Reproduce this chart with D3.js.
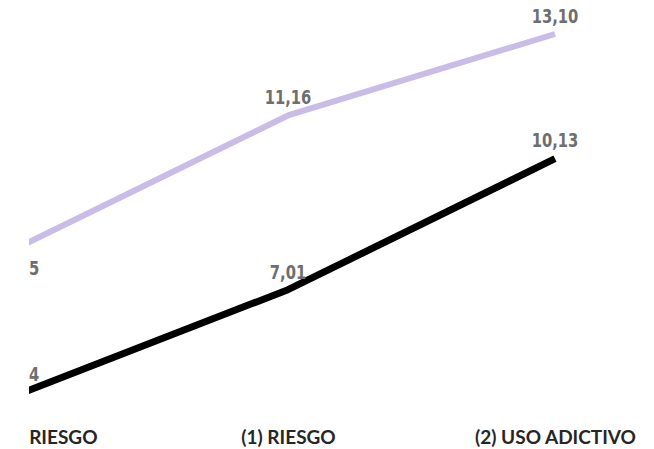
<!DOCTYPE html>
<html>
<head>
<meta charset="utf-8">
<script src="https://cdn.jsdelivr.net/npm/d3@7"></script>
<style>
  html, body { margin: 0; padding: 0; background: #fff; }
  svg { display: block; }
</style>
</head>
<body>
<svg id="chart" width="654" height="449"></svg>
<script>
const categories = ["(0) SIN RIESGO", "(1) RIESGO", "(2) USO ADICTIVO"];
const seriesNames = ["Serie lila", "Serie negra"];
const purpleValues = [8.05, 11.16, 13.10];
const blackValues = [4.54, 7.01, 10.13];
const purpleLabels = ["8,05", "11,16", "13,10"];
const blackLabels = ["4,54", "7,01", "10,13"];

const W = 654, H = 449;
const svg = d3.select("#chart");

const x = d3.scalePoint().domain(categories).range([21, 555]);
const y = d3.scaleLinear().domain([0, 13.10]).range([584, 34]);

svg.append("defs").append("clipPath").attr("id", "clip")
  .append("rect").attr("x", 29).attr("y", 0).attr("width", W - 29).attr("height", H);

const g = svg.append("g").attr("clip-path", "url(#clip)");

const series = [
  { name: seriesNames[0], values: purpleValues, labels: purpleLabels, color: "#c9bde7", width: 6, labelDy: [29, -11, -11] },
  { name: seriesNames[1], values: blackValues, labels: blackLabels, color: "#000000", width: 7, labelDy: [-12, -11, -12] }
];

const line = d3.line().x((d, i) => x(categories[i])).y(d => y(d));

series.forEach(s => {
  g.append("path")
    .datum(s.values)
    .attr("d", line)
    .attr("fill", "none")
    .attr("stroke", s.color)
    .attr("stroke-width", s.width)
    .attr("stroke-linejoin", "round");
});

series.forEach(s => {
  g.selectAll(null)
    .data(s.values)
    .enter().append("text")
    .attr("transform", (d, i) => `translate(${x(categories[i])},${y(d) + s.labelDy[i]}) scale(0.82,1)`)
    .attr("text-anchor", "middle")
    .attr("font-family", "'DejaVu Sans Condensed', 'DejaVu Sans', sans-serif")
    .attr("font-stretch", "condensed")
    .attr("font-weight", "bold")
    .attr("font-size", 20)
    .attr("fill", "#6e6e6e")
    .text((d, i) => s.labels[i]);
});

const xAxis = d3.axisBottom(x).tickSize(0).tickPadding(0);
const ax = g.append("g").attr("transform", "translate(0,430)").call(xAxis);
ax.select(".domain").remove();
ax.selectAll("text")
  .attr("dy", "0.71em")
  .attr("font-family", "Lato, 'Open Sans', sans-serif")
  .attr("font-weight", "bold")
  .attr("font-size", 19)
  .attr("fill", "#262626");
// first category label: its right end sits further right in the reference
ax.selectAll("text").filter((d, i) => i === 0)
  .attr("text-anchor", "end")
  .attr("dx", 76);
</script>
</body>
</html>
